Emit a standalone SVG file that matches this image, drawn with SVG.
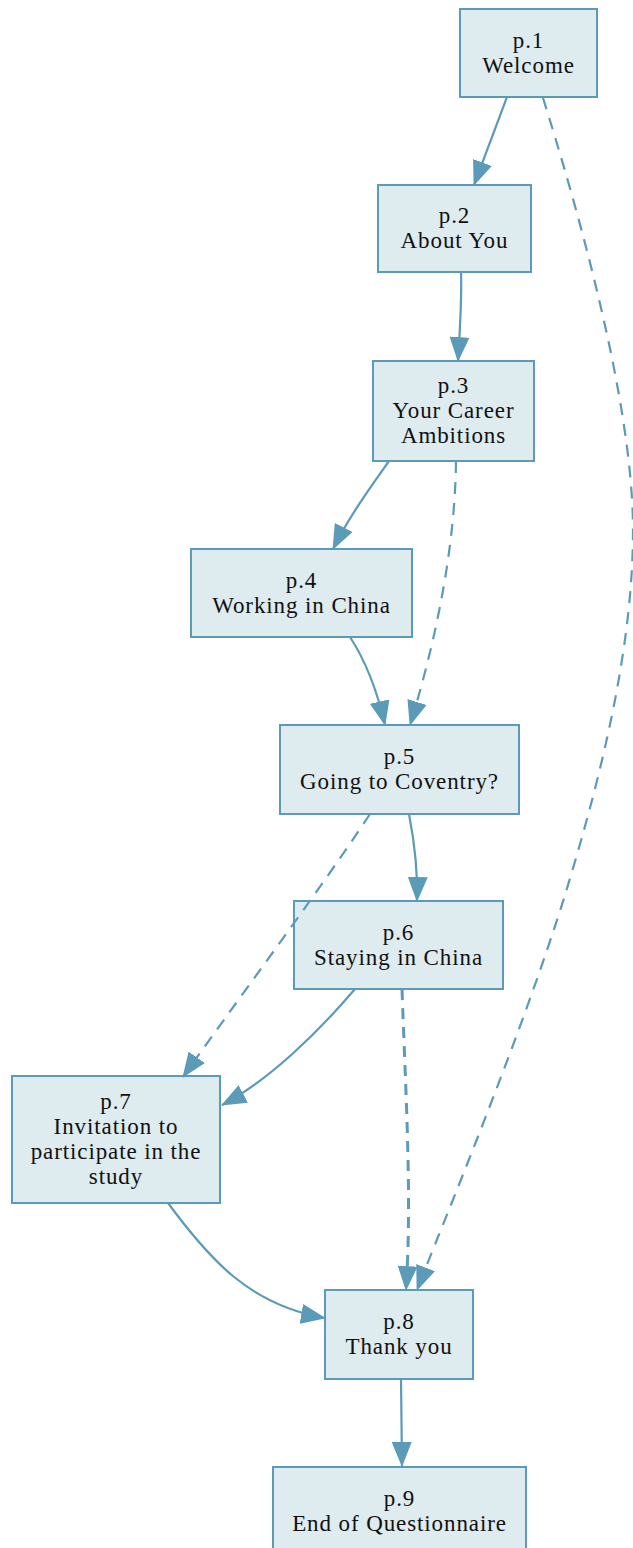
<svg xmlns="http://www.w3.org/2000/svg" width="633" height="1548" viewBox="0 0 633 1548">
<style>
.node rect{fill:#deebef;stroke:#5b9bb8;stroke-width:2}
.node text{font-family:"Liberation Serif","Times New Roman",serif;font-size:23px;fill:#111111;text-anchor:middle;letter-spacing:0.9px}
.edge{fill:none;stroke:#5b9bb8;stroke-width:2.2;marker-end:url(#ah)}
.dash{stroke-dasharray:12,9}
.thick{stroke-width:3;stroke-dasharray:11,8}
</style>
<defs>
<marker id="ah" viewBox="0 0 25 20" refX="24" refY="10" markerWidth="25" markerHeight="20" markerUnits="userSpaceOnUse" orient="auto">
<path d="M0,0 L25,10 L0,20 z" fill="#5b9bb8"/>
</marker>
</defs>
<rect width="633" height="1548" fill="#ffffff"/>
<g id="p1" class="node"><rect x="460" y="9" width="137" height="88"/><text x="528.5" y="47.5">p.1</text><text x="528.5" y="72.5">Welcome</text></g>
<g id="p2" class="node"><rect x="378" y="185" width="153" height="87"/><text x="454.5" y="223">p.2</text><text x="454.5" y="248">About You</text></g>
<g id="p3" class="node"><rect x="373" y="361" width="161" height="100"/><text x="453.5" y="393">p.3</text><text x="453.5" y="418">Your Career</text><text x="453.5" y="443">Ambitions</text></g>
<g id="p4" class="node"><rect x="191" y="549" width="221" height="88"/><text x="301.5" y="587.5">p.4</text><text x="301.5" y="612.5">Working in China</text></g>
<g id="p5" class="node"><rect x="280" y="725" width="239" height="89"/><text x="399.5" y="764">p.5</text><text x="399.5" y="789">Going to Coventry?</text></g>
<g id="p6" class="node"><rect x="294" y="901" width="209" height="88"/><text x="398.5" y="939.5">p.6</text><text x="398.5" y="964.5">Staying in China</text></g>
<g id="p7" class="node"><rect x="12" y="1076" width="208" height="127"/><text x="116" y="1109">p.7</text><text x="116" y="1134">Invitation to</text><text x="116" y="1159">participate in the</text><text x="116" y="1184">study</text></g>
<g id="p8" class="node"><rect x="325" y="1290" width="148" height="89"/><text x="399" y="1329">p.8</text><text x="399" y="1354">Thank you</text></g>
<g id="p9" class="node"><rect x="273" y="1467" width="253" height="88"/><text x="399.5" y="1505.5">p.9</text><text x="399.5" y="1530.5">End of Questionnaire</text></g>
<g id="connectors">
<path class="edge" d="M507,97 L474,185"/>
<path class="edge dash" d="M543,98 C575,200 633,400 633,530 C633,650 600,780 565,895 C520,1040 440,1230 417,1290"/>
<path class="edge" d="M461,272 C462,300 460,330 458,361"/>
<path class="edge" d="M389,461 C372,485 350,515 333,549"/>
<path class="edge dash" d="M456,461 C455,560 430,660 410,725"/>
<path class="edge" d="M350,637 C365,660 377,690 385,725"/>
<path class="edge" d="M409,814 C414,840 418,870 417,901"/>
<path class="edge dash" d="M370,814 C320,890 230,1010 183,1077"/>
<path class="edge" d="M355,989 C320,1030 270,1080 222,1105"/>
<path class="edge thick" d="M402,989 C406,1100 412,1200 406,1290"/>
<path class="edge" d="M168,1203 C210,1260 250,1305 325,1318"/>
<path class="edge" d="M401,1379 L402,1466"/>
</g>
</svg>
